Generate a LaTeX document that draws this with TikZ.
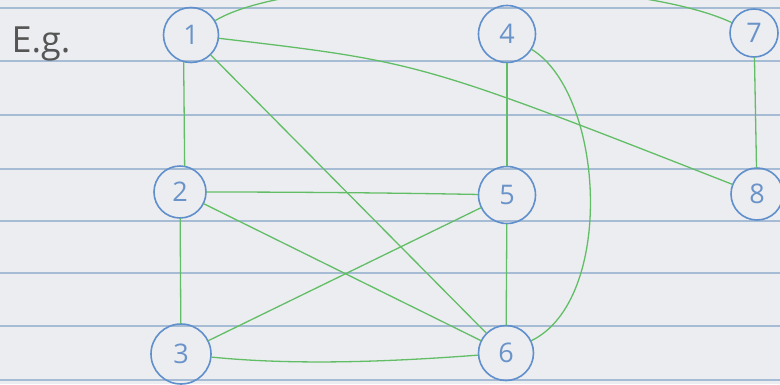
\documentclass[tikz,border=0pt]{standalone}
\usepackage{fontspec}
\setmainfont{Open Sans}
\definecolor{paper}{HTML}{ECEDF0}
\definecolor{rulecol}{HTML}{A6BBD4}
\definecolor{nodeblue}{HTML}{5F8FCC}
\definecolor{digitblue}{HTML}{6A93C9}
\definecolor{edgegreen}{HTML}{62BE66}
\definecolor{inkgray}{HTML}{555555}
\begin{document}
\begin{tikzpicture}[x=1pt,y=-1pt,
  vert/.style={draw=nodeblue, line width=1.6pt, circle, inner sep=0pt, text=digitblue, font=\fontsize{27}{27}\selectfont},
  edge/.style={draw=edgegreen, line width=1.3pt, line cap=round},
  ruled/.style={draw=rulecol, line width=1.6pt}]
\fill[paper] (0,0) rectangle (780,384);
\useasboundingbox (0,0) rectangle (780,384);
\foreach \y in {8,61,115,169,221,273,326,380} \draw[ruled] (0,\y) -- (780,\y);
\node[anchor=west, text=inkgray, font=\fontsize{36}{36}\selectfont] (eg) at (8,44) {E.g.};
\node[vert, minimum size=55pt] (n1) at (191,35) {1};
\node[vert, minimum size=57pt] (n4) at (507,34) {4};
\node[vert, minimum size=48pt] (n7) at (754,33) {7};
\node[vert, minimum size=52pt] (n2) at (180,192) {2};
\node[vert, minimum size=57pt] (n5) at (507,195) {5};
\node[vert, minimum size=52pt] (n8) at (757,194) {8};
\node[vert, minimum size=60pt] (n3) at (181,354) {3};
\node[vert, minimum size=55pt] (n6) at (506,353) {6};
\begin{scope}
\clip (0,0) rectangle (780,384);
\draw[edge] (n1) .. controls (300,-30) and (630,-25) .. (n7);
\draw[edge] (n1.255) -- (n2.80);
\draw[edge] (n1) .. controls (420,62) .. (n8);
\draw[edge] (n1) -- (n6);
\draw[edge] (n4) -- (n5);
\draw[edge] (n4) .. controls (605,95) and (615,300) .. (n6);
\draw[edge] (n7) -- (n8);
\draw[edge] (n2) .. controls (300,192) and (400,193) .. (n5);
\draw[edge] (n2) -- (n6);
\draw[edge] (n2) -- (n3);
\draw[edge] (n3) -- (n5);
\draw[edge] (n3) .. controls (300,366) and (400,361) .. (n6);
\draw[edge] (n5) -- (n6);
\end{scope}
\end{tikzpicture}
\end{document}
